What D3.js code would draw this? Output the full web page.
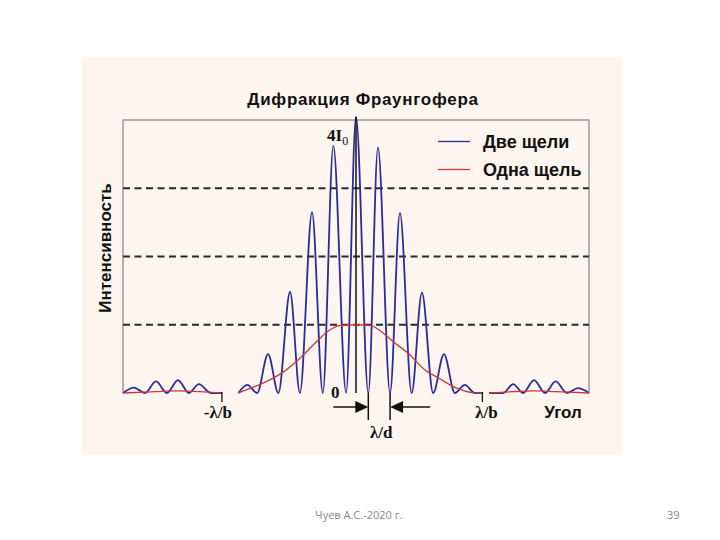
<!DOCTYPE html>
<html>
<head>
<meta charset="utf-8">
<script src="https://cdn.jsdelivr.net/npm/d3@7"></script>
<style>
    body { margin: 0; background: #fff; }
    .serif { font-family: 'Liberation Serif', 'DejaVu Serif', serif; font-weight: bold; }
    .sans { font-family: 'Liberation Sans', Arial, sans-serif; font-weight: bold; }
</style>
</head>
<body>
<div id="chart"></div>
<script>
// angle in units of lambda/d, intensity in units of I0
const blueX = [-10.6, -10.1, -9.6, -9.1, -8.6, -8.1, -7.6, -7.15, -6.6, -6.1, null,
    -5.35, -4.95, -4.5, -4.0, -3.53, -3.0, -2.55, -2.0, -1.51, -1.03, -0.45, 0,
    0.56, 1.0, 1.55, 2.0, 2.53, 3.0, 3.51, 4.0, 4.5, 4.95, 5.4, 5.75, null,
    6.05, 6.7, 7.15, 7.6, 8.1, 8.6, 9.08, 9.6, 10.1, 10.6];
const blueY = [0, 0.08, 0, 0.17, 0, 0.19, 0, 0.13, 0, 0, null,
    0, 0.12, 0, 0.57, 0, 1.48, 0, 2.65, 0, 3.62, 0, 4.05,
    0, 3.6, 0, 2.64, 0, 1.47, 0, 0.57, 0, 0.12, 0, 0, null,
    0, 0, 0.13, 0, 0.19, 0, 0.17, 0, 0.07, 0];

const redX = [-10.6, -9.1, -8.1, -7.1, -6.1, null,
    -5.35, -4.8, -4.06, -3.3, -2.55, -1.8, -1.33, -0.7, 0, 0.64, 1.3, 1.7, 2.45, 3.06, 3.8, 4.58, 5.2, 5.75, null,
    6.05, 7.15, 8.1, 9.08, 10.6];
const redY = [0, 0.02, 0.03, 0.02, 0, null,
    0, 0.07, 0.17, 0.31, 0.51, 0.75, 0.89, 0.99, 1.0, 0.99, 0.86, 0.75, 0.56, 0.36, 0.21, 0.07, 0.01, 0, null,
    0, 0.02, 0.03, 0.02, 0];

const gridLevels = [1, 2, 3];
const angleTicks = [-6.1, 5.75];
const angleLabels = ['-λ/b', 'λ/b'];
const fringeSpan = [0.56, 1.55];
const seriesNames = ['Две щели', 'Одна щель'];
const seriesColors = ['#2b2b9c', '#cc3b3b'];

class DiffractionChart {

    constructor(_config) {
        this.config = {
            parentElement: _config.parentElement,
            containerWidth: _config.containerWidth || 720,
            containerHeight: _config.containerHeight || 540,
            panel: {x: 82, y: 57, w: 540, h: 398},
            plot: {left: 123, right: 589, top: 120, bottom: 393}
        };
        this.initVis();
    }

    initVis() {
        let vis = this;
        const p = vis.config.plot;

        vis.svg = d3.select(vis.config.parentElement)
            .append('svg')
            .attr('width', vis.config.containerWidth)
            .attr('height', vis.config.containerHeight);

        vis.svg.append('rect')
            .attr('x', vis.config.panel.x)
            .attr('y', vis.config.panel.y)
            .attr('width', vis.config.panel.w)
            .attr('height', vis.config.panel.h)
            .attr('fill', '#fdf5ef');

        vis.xScale = d3.scaleLinear()
            .domain([-10.6, 10.6])
            .range([p.left, p.right]);

        vis.yScale = d3.scaleLinear()
            .domain([0, 4])
            .range([p.bottom, p.top]);

        // frame (left, top, right)
        vis.svg.append('path')
            .attr('d', `M${p.left},${p.bottom}V${p.top}H${p.right}V${p.bottom}`)
            .attr('fill', 'none')
            .attr('stroke', '#9a9a9a')
            .attr('stroke-width', 1.5);

        vis.svg.append('text')
            .attr('class', 'sans')
            .attr('x', 363)
            .attr('y', 105)
            .attr('text-anchor', 'middle')
            .style('font-size', '17px')
            .style('letter-spacing', '0.7px')
            .attr('fill', '#111')
            .text('Дифракция Фраунгофера');

        vis.svg.append('text')
            .attr('class', 'sans')
            .attr('transform', 'translate(111,248) rotate(-90)')
            .attr('text-anchor', 'middle')
            .style('font-size', '17px')
            .attr('fill', '#111')
            .text('Интенсивность');

        vis.updateVis();
    }

    updateVis() {
        let vis = this;
        vis.blueData = blueX.map((x, i) => ({x: x, y: blueY[i]}));
        vis.redData = redX.map((x, i) => ({x: x, y: redY[i]}));
        vis.renderVis();
    }

    renderVis() {
        let vis = this;
        const p = vis.config.plot;
        const x = vis.xScale, y = vis.yScale;

        vis.svg.selectAll('.grid-line')
            .data(gridLevels)
            .join('line')
            .attr('class', 'grid-line')
            .attr('x1', p.left)
            .attr('x2', p.right)
            .attr('y1', d => y(d))
            .attr('y2', d => y(d))
            .attr('stroke', '#2a2a2a')
            .attr('stroke-width', 1.8)
            .attr('stroke-dasharray', '7,4.5');

        const line = d3.line()
            .defined(d => d.x !== null && d.y !== null)
            .x(d => x(d.x))
            .y(d => y(d.y))
            .curve(d3.curveMonotoneX);

        vis.svg.append('path')
            .datum(vis.blueData)
            .attr('d', line)
            .attr('fill', 'none')
            .attr('stroke', seriesColors[0])
            .attr('stroke-width', 1.8);

        // central axis line
        vis.svg.append('line')
            .attr('x1', x(0)).attr('x2', x(0))
            .attr('y1', p.top - 3).attr('y2', p.bottom)
            .attr('stroke', '#111')
            .attr('stroke-width', 1.5);

        vis.svg.append('path')
            .datum(vis.redData)
            .attr('d', line)
            .attr('fill', 'none')
            .attr('stroke', seriesColors[1])
            .attr('stroke-width', 1.3);

        // lambda/b ticks
        vis.svg.selectAll('.angle-tick')
            .data(angleTicks)
            .join('line')
            .attr('class', 'angle-tick')
            .attr('x1', d => x(d)).attr('x2', d => x(d))
            .attr('y1', p.bottom - 1).attr('y2', p.bottom + 9)
            .attr('stroke', '#111')
            .attr('stroke-width', 1.3);

        vis.svg.selectAll('.angle-label')
            .data(angleTicks)
            .join('text')
            .attr('class', 'angle-label serif')
            .attr('x', (d, i) => x(d) + (i === 0 ? -4 : 4))
            .attr('y', 418)
            .attr('text-anchor', 'middle')
            .style('font-size', '17px')
            .attr('fill', '#111')
            .text((d, i) => angleLabels[i]);

        vis.svg.append('text')
            .attr('class', 'sans')
            .attr('x', 563)
            .attr('y', 418)
            .attr('text-anchor', 'middle')
            .style('font-size', '17px')
            .attr('fill', '#111')
            .text('Угол');

        // lambda/d marker
        vis.svg.selectAll('.span-line')
            .data(fringeSpan)
            .join('line')
            .attr('class', 'span-line')
            .attr('x1', d => x(d)).attr('x2', d => x(d))
            .attr('y1', p.bottom).attr('y2', p.bottom + 27)
            .attr('stroke', '#111')
            .attr('stroke-width', 1.5);

        const x0 = x(fringeSpan[0]), x1 = x(fringeSpan[1]), ay = p.bottom + 14;
        vis.svg.append('line')
            .attr('x1', x0 - 35).attr('x2', x0 - 10)
            .attr('y1', ay).attr('y2', ay)
            .attr('stroke', '#111').attr('stroke-width', 1.5);
        vis.svg.append('path')
            .attr('d', `M${x0},${ay}L${x0 - 13},${ay - 6}L${x0 - 13},${ay + 6}Z`)
            .attr('fill', '#111');
        vis.svg.append('line')
            .attr('x1', x1 + 10).attr('x2', x1 + 40)
            .attr('y1', ay).attr('y2', ay)
            .attr('stroke', '#111').attr('stroke-width', 1.5);
        vis.svg.append('path')
            .attr('d', `M${x1},${ay}L${x1 + 13},${ay - 6}L${x1 + 13},${ay + 6}Z`)
            .attr('fill', '#111');

        vis.svg.append('text')
            .attr('class', 'serif')
            .attr('x', (x0 + x1) / 2 + 2)
            .attr('y', 438)
            .attr('text-anchor', 'middle')
            .style('font-size', '17px')
            .attr('fill', '#111')
            .text('λ/d');

        // axis value labels
        const peak = vis.svg.append('text')
            .attr('class', 'serif')
            .attr('x', 327)
            .attr('y', 141)
            .style('font-size', '17px')
            .attr('fill', '#111');
        peak.append('tspan').text('4I');
        peak.append('tspan')
            .attr('dy', 4)
            .style('font-size', '12px')
            .style('font-weight', 'normal')
            .text('0');

        vis.svg.append('text')
            .attr('class', 'serif')
            .attr('x', 331)
            .attr('y', 398)
            .style('font-size', '17px')
            .attr('fill', '#111')
            .text('0');

        // legend
        const legend = vis.svg.selectAll('.legend-item')
            .data(seriesNames)
            .join('g')
            .attr('class', 'legend-item')
            .attr('transform', (d, i) => `translate(438,${141.5 + i * 28})`);

        legend.append('line')
            .attr('x1', 0).attr('x2', 32)
            .attr('stroke', (d, i) => seriesColors[i])
            .attr('stroke-width', 1.3);

        legend.append('text')
            .attr('class', 'sans')
            .attr('x', 45)
            .attr('y', 6)
            .style('font-size', '18px')
            .attr('fill', '#111')
            .text(d => d);

        // slide footer
        vis.svg.append('text')
            .attr('x', 315)
            .attr('y', 519)
            .style('font-family', "'Open Sans', sans-serif")
            .style('font-size', '11px')
            .attr('fill', '#8a8a8a')
            .text('Чуев А.С.-2020 г.');

        vis.svg.append('text')
            .attr('x', 667)
            .attr('y', 519)
            .style('font-family', "'Open Sans', sans-serif")
            .style('font-size', '11px')
            .attr('fill', '#8a8a8a')
            .text('39');
    }
}

new DiffractionChart({parentElement: '#chart'});
</script>
</body>
</html>
